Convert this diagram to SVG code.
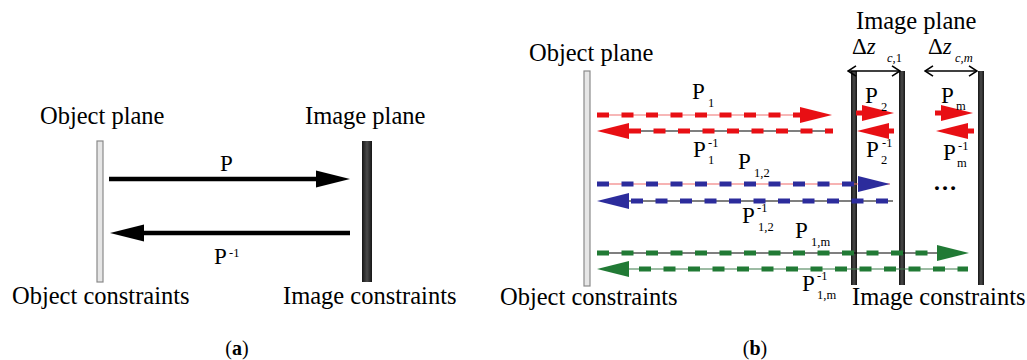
<svg xmlns="http://www.w3.org/2000/svg" width="1027" height="360" viewBox="0 0 1027 360">
<style>
.t{font-family:"Liberation Serif",serif;fill:#000}
.lbl{font-size:24.5px}
.p{font-size:23px}
.s{font-size:12.5px}
.obj{fill:#e6e6e6;stroke:#8a8a8a;stroke-width:1.2}
.img{fill:url(#dark)}
.red{fill:#e80f14}
.blue{fill:#2c2c9c}
.green{fill:#217a35}
.dr{stroke:#e80f14;stroke-width:5;stroke-dasharray:12 12.5;fill:none}
.db{stroke:#2c2c9c;stroke-width:5;stroke-dasharray:12 12.5;fill:none}
.dg{stroke:#217a35;stroke-width:5;stroke-dasharray:12 12.5;fill:none}
.thin{stroke-width:1.2;fill:none}
</style>
<defs>
<linearGradient id="dark" x1="0" y1="0" x2="1" y2="0">
<stop offset="0" stop-color="#151515"/>
<stop offset="0.5" stop-color="#4a4a4a"/>
<stop offset="1" stop-color="#151515"/>
</linearGradient>
<marker id="chev" viewBox="0 0 10 12" refX="9" refY="6" markerWidth="10" markerHeight="12" markerUnits="userSpaceOnUse" orient="auto-start-reverse">
<path d="M1,0.8 L9,6 L1,11.2" fill="none" stroke="#000" stroke-width="1.6"/>
</marker>
</defs>

<!-- Panel (a) -->
<g id="a-object-plane">
<rect class="obj" x="97" y="141" width="6" height="141"/>
<text class="t lbl" x="40" y="124">Object plane</text>
<text class="t lbl" x="12" y="304">Object constraints</text>
</g>
<g id="a-image-plane">
<rect class="img" x="362" y="141" width="10" height="141"/>
<text class="t lbl" x="305" y="124">Image plane</text>
<text class="t lbl" x="283" y="304">Image constraints</text>
</g>
<g id="a-connectors">
<line x1="109" y1="179" x2="318" y2="179" stroke="#000" stroke-width="4.5"/>
<polygon points="316,170.5 350,179 316,187.5" fill="#000"/>
<line x1="142" y1="233" x2="350" y2="233" stroke="#000" stroke-width="4.5"/>
<polygon points="144,224.5 110,233 144,241.5" fill="#000"/>
<text class="t p" x="220" y="171">P</text>
<text class="t p" x="214" y="264">P</text>
<text class="t s" x="229" y="257">-1</text>
</g>
<text class="t" x="237" y="355" font-size="20" text-anchor="middle">(<tspan font-weight="bold">a</tspan>)</text>

<!-- Panel (b) -->
<g id="b-object-plane">
<rect class="obj" x="584" y="71" width="6" height="215"/>
<text class="t lbl" x="529" y="61">Object plane</text>
<text class="t lbl" x="500" y="305">Object constraints</text>
</g>
<g id="b-image-planes">
<rect class="img" x="851" y="71" width="6" height="214"/>
<rect class="img" x="899" y="71" width="6" height="214"/>
<rect class="img" x="978" y="71" width="6" height="214"/>
<text class="t lbl" x="856" y="29">Image plane</text>
<text class="t lbl" x="852" y="305">Image constraints</text>
<text class="t" font-size="23" x="852" y="54">Δ<tspan font-style="italic">z</tspan></text>
<text class="t s" x="887" y="62"><tspan font-style="italic">c</tspan>,1</text>
<text class="t" font-size="23" x="928" y="54">Δ<tspan font-style="italic">z</tspan></text>
<text class="t s" x="955" y="62" font-style="italic">c,m</text>
</g>
<g id="b-connectors">
<!-- spacing arrows -->
<line x1="848" y1="71" x2="900" y2="71" stroke="#000" stroke-width="1.6" marker-start="url(#chev)" marker-end="url(#chev)"/>
<line x1="925" y1="71" x2="977" y2="71" stroke="#000" stroke-width="1.6" marker-start="url(#chev)" marker-end="url(#chev)"/>

<!-- red P1 -->
<line class="thin" x1="597" y1="115" x2="802" y2="115" stroke="#f07070"/>
<line class="dr" x1="597" y1="115" x2="802" y2="115"/>
<polygon class="red" points="800,107 832,115 800,123"/>
<line class="thin" x1="629" y1="131" x2="833" y2="131" stroke="#000"/>
<line class="dr" x1="629" y1="131" x2="833" y2="131"/>
<polygon class="red" points="629,123 597,131 629,139"/>

<!-- red short P2, Pm -->
<rect class="red" x="856" y="110.5" width="10" height="5"/>
<polygon class="red" points="862,105 894,113 862,121"/>
<rect class="red" x="884" y="128.5" width="10" height="5"/>
<polygon class="red" points="889,123 857,131 889,139"/>
<rect class="red" x="935" y="110.5" width="10" height="5"/>
<polygon class="red" points="941,105 973,113 941,121"/>
<rect class="red" x="964" y="128.5" width="10" height="5"/>
<polygon class="red" points="968,123 936,131 968,139"/>

<!-- blue P12 -->
<line class="thin" x1="597" y1="184" x2="890" y2="184" stroke="#f06868"/>
<line class="db" x1="597" y1="184" x2="858" y2="184"/>
<polygon class="blue" points="858,176 890,184 858,192"/>
<line class="thin" x1="629" y1="201" x2="893" y2="201" stroke="#000"/>
<line class="db" x1="631" y1="201" x2="893" y2="201"/>
<polygon class="blue" points="629,193 597,201 629,209"/>

<!-- green P1m -->
<line class="thin" x1="597" y1="253" x2="940" y2="253" stroke="#000"/>
<line class="dg" x1="597" y1="253" x2="940" y2="253"/>
<polygon class="green" points="937,245 969,253 937,261"/>
<line class="thin" x1="629" y1="269" x2="968" y2="269" stroke="#3d7a4a"/>
<line class="dg" x1="639" y1="269" x2="968" y2="269"/>
<polygon class="green" points="629,261 597,269 629,277"/>

<!-- labels -->
<text class="t p" x="692" y="99">P</text>
<text class="t s" x="708" y="107">1</text>
<text class="t p" x="693" y="157">P</text>
<text class="t s" x="708" y="147">-1</text>
<text class="t s" x="708" y="164">1</text>
<text class="t p" x="738" y="169">P</text>
<text class="t s" x="754" y="177">1,2</text>
<text class="t p" x="742" y="223">P</text>
<text class="t s" x="757" y="212">-1</text>
<text class="t s" x="758" y="231">1,2</text>
<text class="t p" x="795" y="238">P</text>
<text class="t s" x="811" y="246">1,m</text>
<text class="t p" x="802" y="291">P</text>
<text class="t s" x="817" y="280">-1</text>
<text class="t s" x="817" y="299">1,m</text>
<text class="t p" x="865" y="103">P</text>
<text class="t s" x="881" y="111">2</text>
<text class="t p" x="866" y="157">P</text>
<text class="t s" x="882" y="147">-1</text>
<text class="t s" x="881" y="164">2</text>
<text class="t p" x="941" y="103">P</text>
<text class="t s" x="956" y="110">m</text>
<text class="t p" x="943" y="160">P</text>
<text class="t s" x="958" y="150">-1</text>
<text class="t s" x="957" y="167">m</text>
<text class="t" font-size="24" font-weight="bold" x="933" y="190">…</text>
</g>
<text class="t" x="755" y="355" font-size="20" text-anchor="middle">(<tspan font-weight="bold">b</tspan>)</text>
</svg>
